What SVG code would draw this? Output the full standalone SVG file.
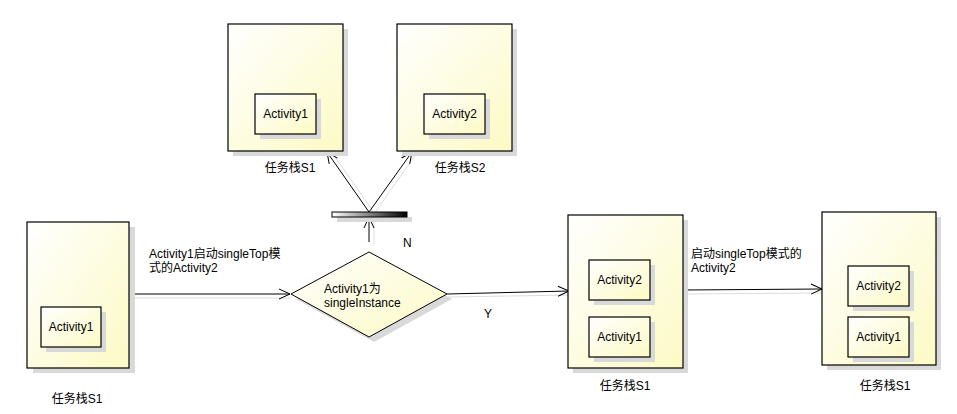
<svg xmlns="http://www.w3.org/2000/svg" width="957" height="414" viewBox="0 0 957 414">
<defs>
<linearGradient id="gY" x1="0" y1="0" x2="1" y2="1">
<stop offset="0" stop-color="#ffffff"/>
<stop offset="1" stop-color="#fcfac4"/>
</linearGradient>
<linearGradient id="gBar" x1="0" y1="0" x2="1" y2="0">
<stop offset="0" stop-color="#ffffff"/>
<stop offset="1" stop-color="#000000"/>
</linearGradient>
<marker id="arr" markerWidth="14" markerHeight="12" refX="12" refY="6" orient="auto" markerUnits="userSpaceOnUse">
<path d="M1,1 L12,6 L1,11" fill="none" stroke="#000" stroke-width="1"/>
</marker>
</defs>
<style>
.box{fill:url(#gY);stroke:#000;stroke-width:1.2}
.sh{fill:#d9d9d9}
.t{font-family:"Liberation Sans","Noto Sans CJK SC",sans-serif;font-size:12px;fill:#000}
.c{stroke:#000;stroke-width:1;fill:none;marker-end:url(#arr)}
.cs{stroke:#dcdcdc;stroke-width:1;fill:none}
</style>
<rect width="957" height="414" fill="#fff"/>

<g id="connectors">
<line class="cs" x1="130" y1="298" x2="291" y2="298"/>
<line class="c" x1="129" y1="294" x2="290" y2="294"/>
<line class="cs" x1="448" y1="297" x2="572" y2="295"/>
<line class="c" x1="447" y1="294" x2="569" y2="291"/>
<line class="cs" x1="684" y1="294" x2="824" y2="293"/>
<line class="c" x1="683" y1="290" x2="822" y2="289"/>
<line class="cs" x1="374" y1="244" x2="374" y2="220"/>
<line class="c" x1="369" y1="242" x2="369" y2="217"/>
<line class="cs" x1="375" y1="214" x2="333" y2="154"/>
<line class="c" x1="369" y1="212" x2="327" y2="152"/>
<line class="cs" x1="374" y1="214" x2="416" y2="154"/>
<line class="c" x1="369" y1="212" x2="412" y2="152"/>
<text class="t" x="149" y="258">Activity1启动singleTop模</text>
<text class="t" x="149" y="272">式的Activity2</text>
<text class="t" x="403" y="247">N</text>
<text class="t" x="484" y="318">Y</text>
<text class="t" x="691" y="258">启动singleTop模式的</text>
<text class="t" x="691" y="272">Activity2</text>
</g>

<g id="stackLeft">
<rect class="sh" x="33" y="227" width="102" height="146"/>
<rect class="box" x="27" y="222" width="102" height="146"/>
<rect class="sh" x="46" y="312" width="60" height="40"/>
<rect class="box" x="41" y="307" width="60" height="40"/>
<text class="t" x="71" y="331" text-anchor="middle">Activity1</text>
<text class="t" x="77" y="403" text-anchor="middle">任务栈S1</text>
</g>

<g id="stackTopS1">
<rect class="sh" x="233" y="29" width="115" height="127"/>
<rect class="box" x="228" y="24" width="115" height="127"/>
<rect class="sh" x="260" y="99" width="61" height="40"/>
<rect class="box" x="255" y="94" width="61" height="40"/>
<text class="t" x="285.500" y="118" text-anchor="middle">Activity1</text>
<text class="t" x="290" y="172" text-anchor="middle">任务栈S1</text>
</g>

<g id="stackTopS2">
<rect class="sh" x="402" y="29" width="115" height="127"/>
<rect class="box" x="397" y="24" width="115" height="127"/>
<rect class="sh" x="429" y="99" width="61" height="40"/>
<rect class="box" x="424" y="94" width="61" height="40"/>
<text class="t" x="454.500" y="118" text-anchor="middle">Activity2</text>
<text class="t" x="460" y="172" text-anchor="middle">任务栈S2</text>
</g>

<g id="forkBar">
<rect class="sh" x="337" y="217" width="75" height="5"/>
<rect x="332" y="212" width="75" height="5" fill="url(#gBar)" stroke="#000" stroke-width="1"/>
</g>

<g id="decision">
<polygon points="374,257 452,299 374,342 296,299" fill="#d9d9d9"/>
<polygon points="369,252 447,294 369,337 291,294" fill="url(#gY)" stroke="#000" stroke-width="1"/>
<text class="t" x="324" y="293">Activity1为</text>
<text class="t" x="324" y="307">singleInstance</text>
</g>

<g id="stackRight1">
<rect class="sh" x="573" y="220" width="115" height="153"/>
<rect class="box" x="568" y="215" width="115" height="153"/>
<rect class="sh" x="594" y="265" width="61" height="40"/>
<rect class="box" x="589" y="260" width="61" height="40"/>
<text class="t" x="619.500" y="284" text-anchor="middle">Activity2</text>
<rect class="sh" x="594" y="322" width="61" height="40"/>
<rect class="box" x="589" y="317" width="61" height="40"/>
<text class="t" x="619.500" y="341" text-anchor="middle">Activity1</text>
<text class="t" x="625" y="390" text-anchor="middle">任务栈S1</text>
</g>

<g id="stackRight2">
<rect class="sh" x="827" y="217" width="114" height="153"/>
<rect class="box" x="822" y="212" width="114" height="153"/>
<rect class="sh" x="853" y="271" width="61" height="40"/>
<rect class="box" x="848" y="266" width="61" height="40"/>
<text class="t" x="878.500" y="290" text-anchor="middle">Activity2</text>
<rect class="sh" x="853" y="322" width="61" height="40"/>
<rect class="box" x="848" y="317" width="61" height="40"/>
<text class="t" x="878.500" y="341" text-anchor="middle">Activity1</text>
<text class="t" x="885" y="390" text-anchor="middle">任务栈S1</text>
</g>
</svg>
